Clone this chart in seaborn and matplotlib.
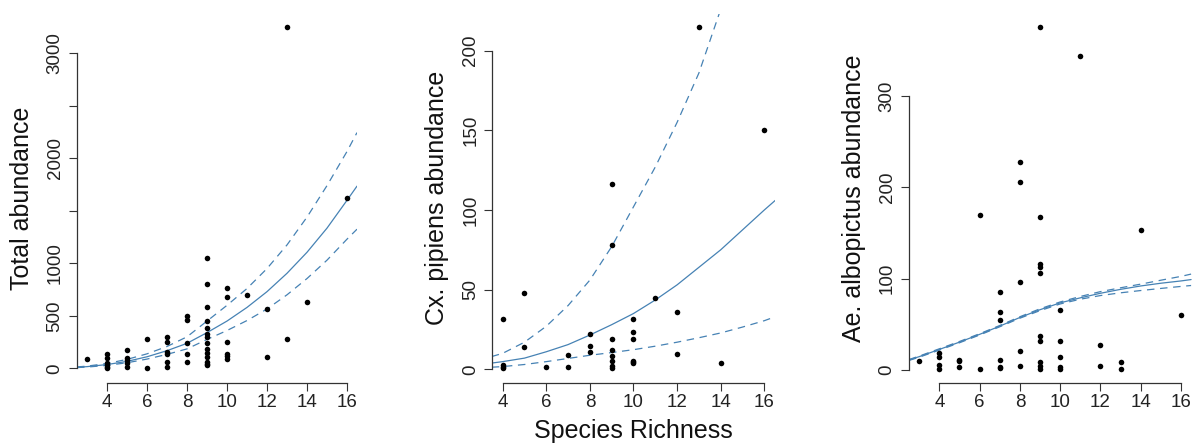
import numpy as np
import pandas as pd
import seaborn as sns
import matplotlib
matplotlib.use('Agg')
import matplotlib.pyplot as plt

# points: species richness vs abundance
tot_rich = [3, 4, 4, 4, 4, 4, 4, 5, 5, 5, 5, 5, 6, 6, 7, 7, 7, 7, 7, 7,
            8, 8, 8, 8, 8, 9, 9, 9, 9, 9, 9, 9, 9, 9, 9, 9, 9, 9, 9,
            10, 10, 10, 10, 10, 10, 11, 12, 12, 13, 13, 14, 16]
tot_abund = [92, 140, 94, 52, 30, 13, 3, 172, 96, 78, 52, 16, 283, 3,
             297, 250, 157, 138, 62, 16, 502, 462, 240, 138, 59,
             1046, 800, 585, 455, 383, 325, 295, 240, 187, 143, 110, 60, 40, 28,
             766, 675, 250, 140, 115, 90, 696, 565, 105, 3248, 283, 633, 1623]

cx_rich = [4, 4, 4, 4, 5, 5, 6, 7, 7, 8, 8, 8, 9, 9, 9, 9, 9, 9, 9, 9,
           10, 10, 10, 10, 10, 10, 11, 12, 12, 13, 14, 16]
cx_abund = [31.7, 2.6, 1.7, 0.6, 48, 14, 1.5, 8.9, 1.5, 22.3, 14.8, 11.1,
            116.5, 78.3, 19, 12.4, 8.2, 5.2, 2, 0.8,
            31.7, 23.6, 19, 5.3, 4.4, 3.8, 44.5, 36.2, 9.6, 214.6, 3.8, 150.4]

ae_rich = [3, 4, 4, 4, 4, 5, 5, 5, 6, 6, 7, 7, 7, 7, 7, 7, 8, 8, 8, 8, 8,
           9, 9, 9, 9, 9, 9, 9, 9, 9, 9, 10, 10, 10, 10, 10, 11, 12, 12,
           13, 13, 14, 16]
ae_abund = [9.8, 18.2, 14.5, 5.5, 1.1, 11.3, 9.8, 2.9, 169.8, 1.5,
            85.1, 63.3, 54.2, 10.9, 3.6, 2.5, 227.6, 205.8, 96.7, 21.1, 4.4,
            375, 167.3, 116.4, 112.4, 105.8, 37.1, 32, 8.7, 4, 1.1,
            65.8, 31.3, 14.5, 2.9, 1.5, 344, 27.6, 4.4, 8.4, 1.5, 153.1, 60.7]

# fitted curves with 95% bands
tot_fit_x = [2.5, 3, 4, 5, 6, 7, 8, 9, 10, 11, 12, 13, 14, 15, 16, 16.5]
tot_fit = [10, 16, 36, 66, 110, 168, 238, 340, 450, 580, 730, 905, 1105, 1335, 1600, 1735]
tot_upr = [13, 21, 46, 85, 138, 208, 300, 450, 600, 760, 950, 1175, 1440, 1740, 2065, 2245]
tot_lwr = [7, 12, 28, 53, 88, 133, 185, 275, 360, 455, 565, 700, 855, 1030, 1230, 1325]

cx_fit_x = [3.5, 4, 5, 6, 7, 8, 9, 10, 11, 12, 13, 14, 15, 16, 16.5]
cx_fit = [3.9, 4.8, 7, 11, 15.5, 21.5, 28, 35, 43.5, 53, 64, 75, 87.5, 100, 106]
cx_upr = [8, 10, 17, 27, 40, 56, 77, 102, 127, 155, 186, 226, 270, 320, 350]
cx_lwr = [1.3, 1.7, 3, 4.8, 6.8, 8.8, 10.5, 12.3, 14.5, 17, 19.8, 22.8, 26.5, 30.5, 33]

ae_fit_x = [2.5, 3, 4, 5, 6, 7, 8, 9, 10, 11, 12, 13, 14, 15, 16, 16.5]
ae_fit = [11, 14.6, 22.5, 30.5, 39, 48, 57.5, 66, 73.5, 79, 84, 88.3, 92, 95, 97.5, 99]
ae_upr = [11.5, 15.2, 23.2, 31.2, 39.7, 48.7, 58.3, 67, 74.5, 80.5, 85.8, 90, 94, 98.3, 102.5, 105]
ae_lwr = [10.5, 14, 21.8, 29.8, 38.3, 47.3, 56.7, 65, 72.3, 77.5, 81.5, 84.5, 87, 89.3, 91.5, 92.5]

ylabels = ['Total abundance', 'Cx. pipiens abundance', 'Ae. albopictus abundance']
x_ticks = [4, 6, 8, 10, 12, 14, 16]

sns.set_style('ticks')
plt.rcParams['font.family'] = ['Liberation Sans', 'DejaVu Sans']

W, H = 1197, 444
fig = plt.figure(figsize=(W / 100, H / 100), dpi=100)

# panel boxes in pixels: left, right, top, bottom
boxes = [(76.6, 357.4, 13.7, 382.5), (492.2, 774.8, 13.7, 382.5), (908.7, 1191.5, 13.7, 382.5)]
xlims = [(2.48, 16.52), (3.52, 16.48), (2.48, 16.52)]
ylims = [(-135, 3377), (-8.3, 223.2), (-13.7, 390.1)]
yticks = [[0, 500, 1000, 1500, 2000, 2500, 3000], [0, 50, 100, 150, 200], [0, 100, 200, 300]]
yticklabels = [['0', '500', '1000', '', '2000', '', '3000'],
               ['0', '50', '100', '150', '200'],
               ['0', '100', '200', '300']]

panels = [
    (tot_rich, tot_abund, tot_fit_x, tot_fit, tot_upr, tot_lwr),
    (cx_rich, cx_abund, cx_fit_x, cx_fit, cx_upr, cx_lwr),
    (ae_rich, ae_abund, ae_fit_x, ae_fit, ae_upr, ae_lwr),
]

line_col = '#4682B4'
axis_col = '#333333'

for i, (rx, ry, fx, fy, fu, fl) in enumerate(panels):
    l, r, t, b = boxes[i]
    ax = fig.add_axes([l / W, 1 - b / H, (r - l) / W, (b - t) / H])
    pts = pd.DataFrame({'rich': rx, 'abund': ry})
    fit = pd.DataFrame({'rich': fx, 'fit': fy, 'upr': fu, 'lwr': fl})

    sns.lineplot(data=fit, x='rich', y='fit', ax=ax, color=line_col, lw=0.9, estimator=None, sort=False)
    sns.lineplot(data=fit, x='rich', y='upr', ax=ax, color=line_col, lw=0.9, estimator=None, sort=False,
                 linestyle=(0, (6, 4.5)))
    sns.lineplot(data=fit, x='rich', y='lwr', ax=ax, color=line_col, lw=0.9, estimator=None, sort=False,
                 linestyle=(0, (6, 4.5)))
    sns.scatterplot(data=pts, x='rich', y='abund', ax=ax, color='black', s=16, linewidth=0, zorder=3)

    ax.set_xlim(*xlims[i])
    ax.set_ylim(*ylims[i])
    ax.set_xticks(x_ticks)
    ax.set_xticklabels([str(v) for v in x_ticks])
    ax.set_yticks(yticks[i])
    ax.set_yticklabels(yticklabels[i], rotation=90, va='center')

    for s in ['top', 'right']:
        ax.spines[s].set_visible(False)
    ax.spines['left'].set_bounds(yticks[i][0], yticks[i][-1])
    ax.spines['bottom'].set_bounds(4, 16)
    for s in ['left', 'bottom']:
        ax.spines[s].set_color(axis_col)
        ax.spines[s].set_linewidth(0.9)

    ax.tick_params(axis='both', direction='out', length=5.8, width=0.8, color=axis_col,
                   labelsize=13.5, labelcolor='#222222', left=True, bottom=True)
    ax.tick_params(axis='y', pad=3.6)
    ax.tick_params(axis='x', pad=2.2)

    ax.set_ylabel(ylabels[i], fontsize=18, color='#111111')
    ax.yaxis.label.set_va('center')
    ax.yaxis.set_label_coords(-55 / (r - l), 0.5)
    if i == 1:
        ax.set_xlabel('Species Richness', fontsize=18, color='#111111')
        ax.xaxis.label.set_va('center')
        ax.xaxis.set_label_coords(0.5, -48.5 / (b - t))
    else:
        ax.set_xlabel('')

plt.savefig('out.png', dpi=100)
